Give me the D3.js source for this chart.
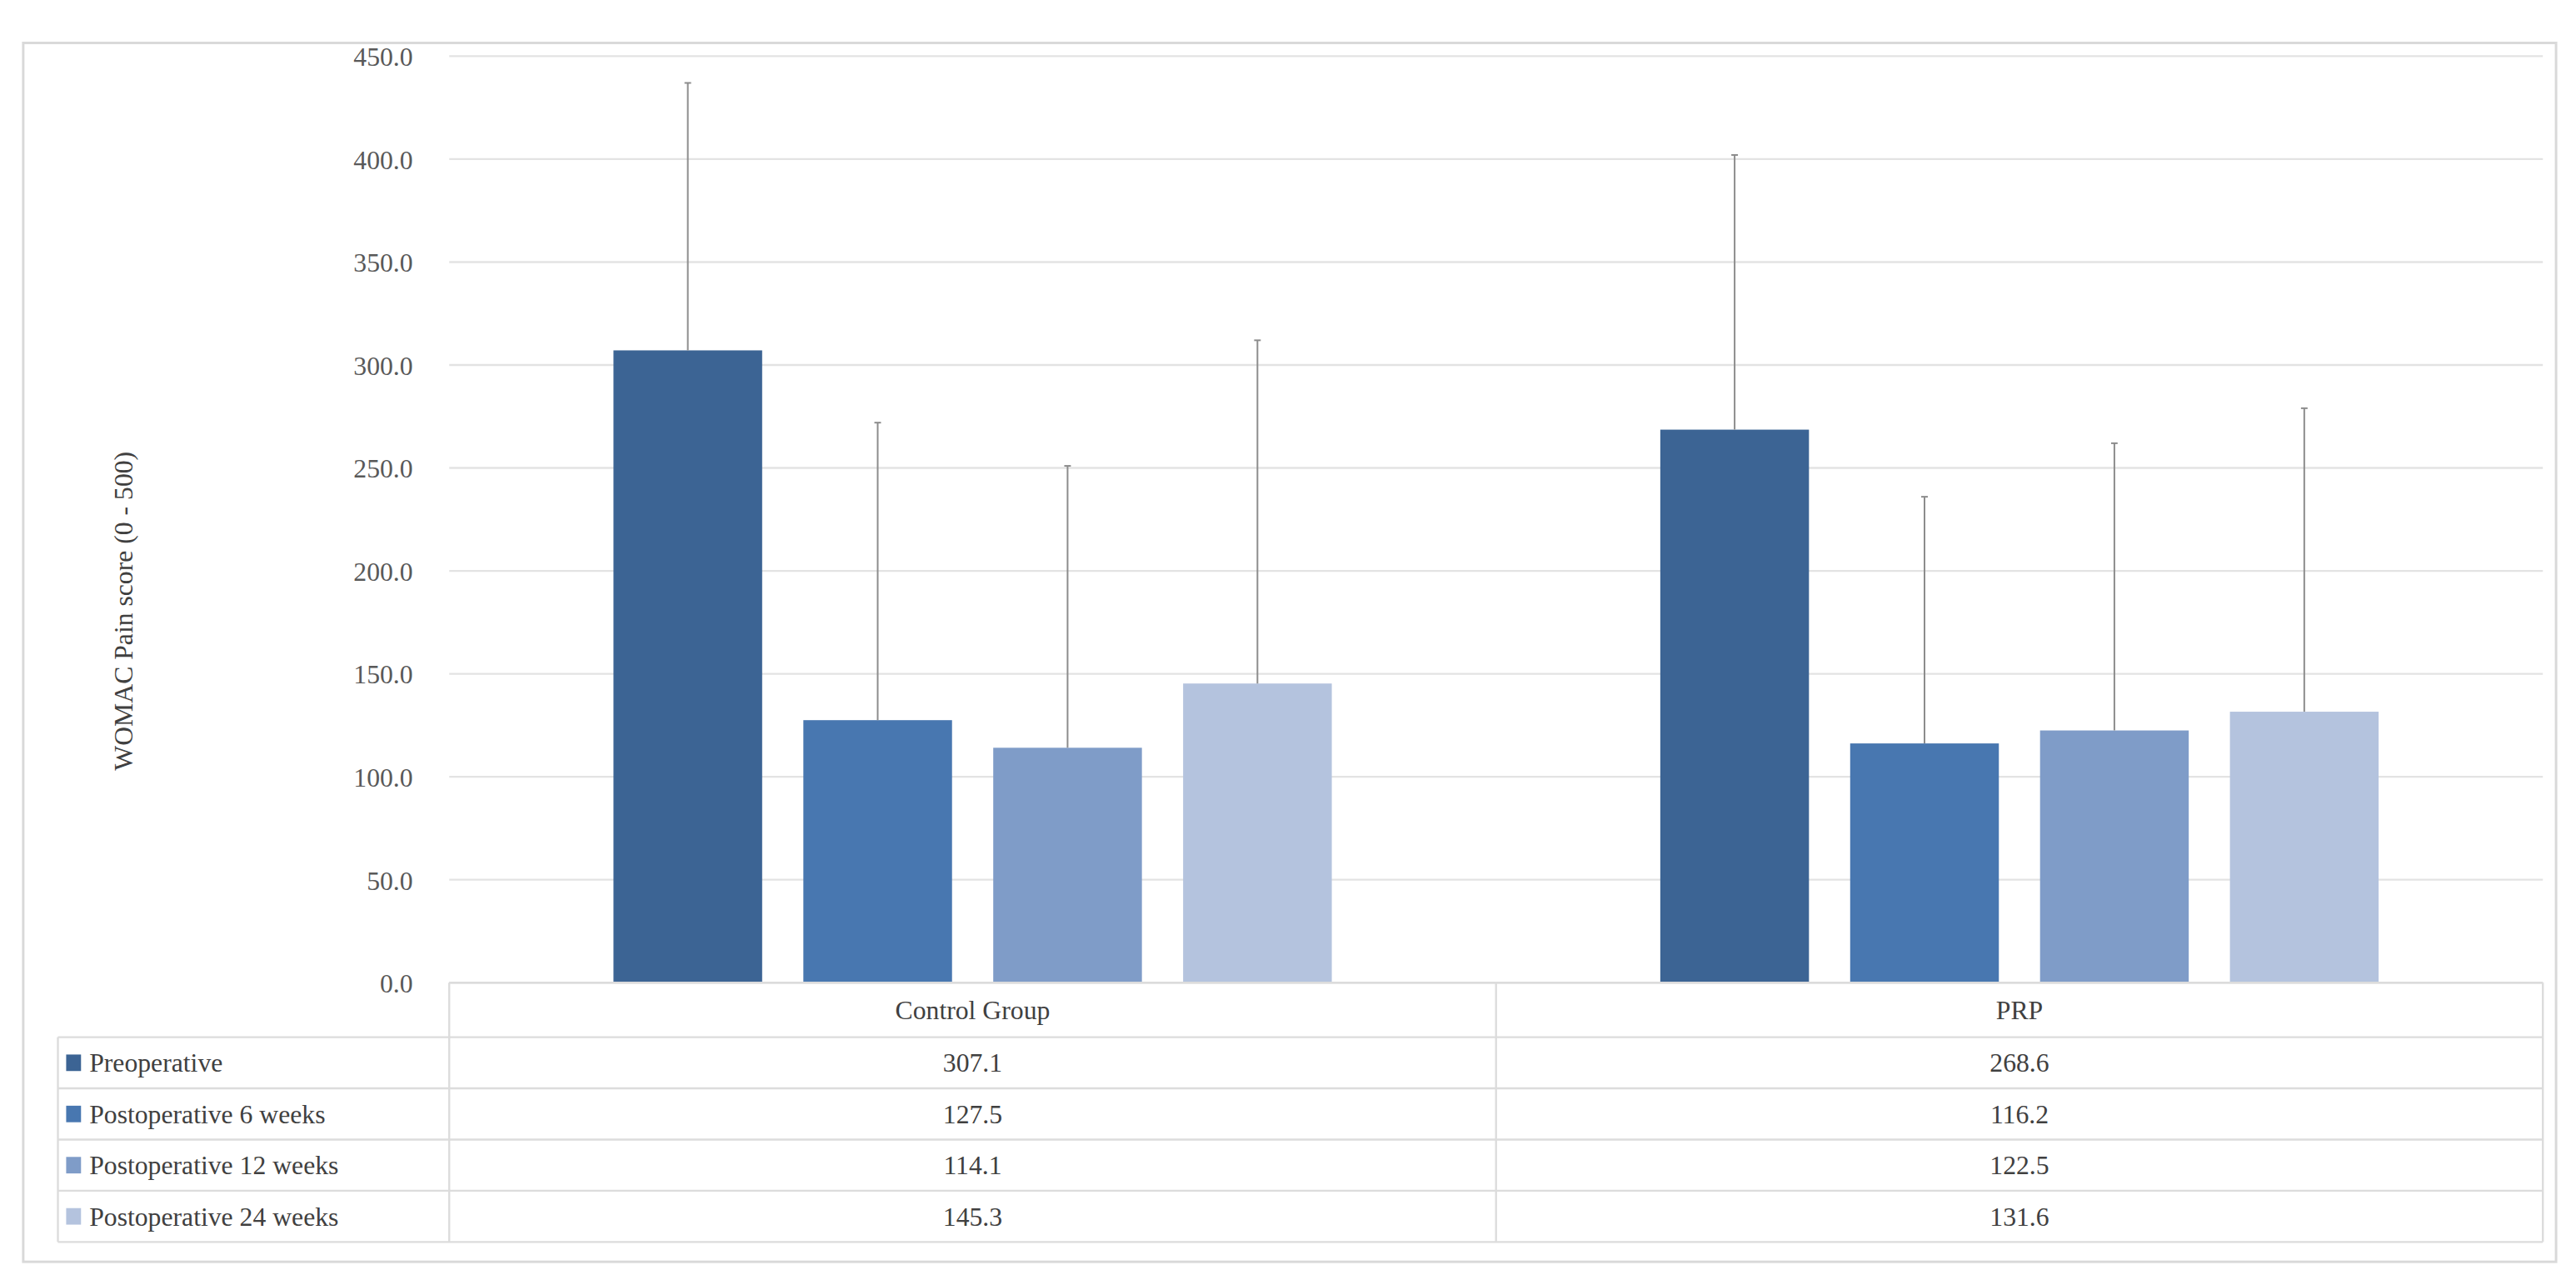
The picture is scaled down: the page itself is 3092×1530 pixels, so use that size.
<!DOCTYPE html>
<html><head><meta charset="utf-8">
<script src="https://cdn.jsdelivr.net/npm/d3@7"></script>
<style>body{margin:0;background:#fff}</style>
</head><body>
<svg id="chart"></svg>
<script>
// data
var groups = ["Control Group", "PRP"];
var series = ["Preoperative", "Postoperative 6 weeks", "Postoperative 12 weeks", "Postoperative 24 weeks"];
var control = [307.1, 127.5, 114.1, 145.3];
var prp = [268.6, 116.2, 122.5, 131.6];
var controlErr = [437, 272, 251, 312];   // top of error bars
var prpErr = [402, 236, 262, 279];
var yTicks = [0, 50, 100, 150, 200, 250, 300, 350, 400, 450];
var colors = ["#3c6494", "#4877b0", "#7f9cc8", "#b4c3de"];

var W = 1560, H = 772;
var svg = d3.select("#chart")
  .attr("width", 3092).attr("height", 1530)
  .attr("viewBox", "0 0 " + W + " " + H)
  .style("font-family", "'Liberation Serif', 'DejaVu Serif', serif");

svg.append("rect").attr("x", 14).attr("y", 26).attr("width", 1534).attr("height", 738)
  .attr("fill", "#fff").attr("stroke", "#d9d9d9").attr("stroke-width", 1.5);

var left = 272, right = 1540, top0 = 34, base = 595;
var y = d3.scaleLinear().domain([0, 450]).range([base, top0]);
var x0 = d3.scaleBand().domain(groups).range([left, right]);
var x1 = d3.scaleBand().domain(series).range([0, x0.bandwidth()]).paddingInner(0.217).paddingOuter(0.865);

// grid
svg.append("g").selectAll("line").data(yTicks).enter().append("line")
  .attr("x1", left).attr("x2", right)
  .attr("y1", d => y(d)).attr("y2", d => y(d))
  .attr("stroke", "#e3e3e3").attr("stroke-width", 1.2);

svg.append("g").selectAll("text").data(yTicks).enter().append("text")
  .attr("x", 250).attr("y", d => y(d) + 6)
  .attr("text-anchor", "end").attr("font-size", 16).attr("fill", "#595959")
  .text(d => d.toFixed(1));

svg.append("text").attr("transform", "translate(80,370) rotate(-90)")
  .attr("text-anchor", "middle").attr("font-size", 16).attr("fill", "#404040")
  .text("WOMAC Pain  score (0 -  500)");

var vals = [control, prp], errs = [controlErr, prpErr];
groups.forEach(function(g, gi) {
  var gg = svg.append("g").attr("transform", "translate(" + x0(g) + ",0)");
  var rows = series.map((s, i) => ({s: s, v: vals[gi][i], e: errs[gi][i], c: colors[i]}));
  gg.selectAll("rect").data(rows).enter().append("rect")
    .attr("x", d => x1(d.s)).attr("width", x1.bandwidth())
    .attr("y", d => y(d.v)).attr("height", d => y(0) - y(d.v))
    .attr("fill", d => d.c);
  gg.selectAll("line.err").data(rows).enter().append("line")
    .attr("x1", d => x1(d.s) + x1.bandwidth() / 2).attr("x2", d => x1(d.s) + x1.bandwidth() / 2)
    .attr("y1", d => y(d.v)).attr("y2", d => y(d.e))
    .attr("stroke", "#8c8c8c").attr("stroke-width", 1);
  gg.selectAll("line.cap").data(rows).enter().append("line")
    .attr("x1", d => x1(d.s) + x1.bandwidth() / 2 - 2).attr("x2", d => x1(d.s) + x1.bandwidth() / 2 + 2)
    .attr("y1", d => y(d.e)).attr("y2", d => y(d.e))
    .attr("stroke", "#8c8c8c").attr("stroke-width", 1);
});

// data table
var rowY = [595, 628, 659, 690, 721, 752];
var tbl = svg.append("g").attr("stroke", "#dcdcdc").attr("stroke-width", 1.2);
tbl.append("line").attr("x1", left).attr("x2", right).attr("y1", base).attr("y2", base);
rowY.slice(1).forEach(function(ry) {
  tbl.append("line").attr("x1", 35).attr("x2", right).attr("y1", ry).attr("y2", ry);
});
[left, x0("PRP"), right].forEach(function(lx) {
  tbl.append("line").attr("x1", lx).attr("x2", lx).attr("y1", base).attr("y2", 752);
});
tbl.append("line").attr("x1", 35).attr("x2", 35).attr("y1", 628).attr("y2", 752);

groups.forEach(function(g) {
  svg.append("text").attr("x", x0(g) + x0.bandwidth() / 2).attr("y", 617)
    .attr("text-anchor", "middle").attr("font-size", 16).attr("fill", "#404040").text(g);
});
series.forEach(function(s, i) {
  var cy = (rowY[i + 1] + rowY[i + 2]) / 2;
  svg.append("rect").attr("x", 40).attr("y", cy - 5).attr("width", 9).attr("height", 10).attr("fill", colors[i]);
  svg.append("text").attr("x", 54).attr("y", cy + 5.5).attr("font-size", 16).attr("fill", "#404040").text(s);
  groups.forEach(function(g, gi) {
    svg.append("text").attr("x", x0(g) + x0.bandwidth() / 2).attr("y", cy + 5.5)
      .attr("text-anchor", "middle").attr("font-size", 16).attr("fill", "#404040")
      .text(vals[gi][i].toFixed(1));
  });
});
</script>
</body></html>
